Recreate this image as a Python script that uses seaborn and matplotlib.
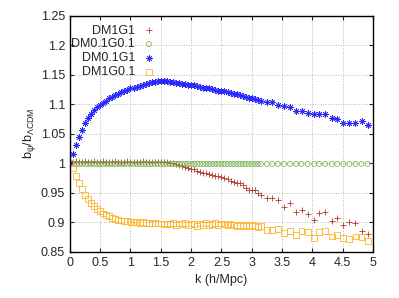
"""
Scale-dependent bias ratio b_psi / b_LCDM for four DM/G models.
"""

import pandas as pd
import matplotlib
matplotlib.use("Agg")
import matplotlib.pyplot as plt
import seaborn as sns

# k values (h/Mpc): dense part of the binning, then the sparse tail
k_dense = [0.00, 0.05, 0.10, 0.15, 0.20, 0.25, 0.30, 0.35, 0.40, 0.45,
           0.50, 0.55, 0.60, 0.65, 0.70, 0.75, 0.80, 0.85, 0.90, 0.95,
           1.00, 1.05, 1.10, 1.15, 1.20, 1.25, 1.30, 1.35, 1.40, 1.45,
           1.50, 1.55, 1.60, 1.65, 1.70, 1.75, 1.80, 1.85, 1.90, 1.95,
           2.00, 2.05, 2.10, 2.15, 2.20, 2.25, 2.30, 2.35, 2.40, 2.45,
           2.50, 2.55, 2.60, 2.65, 2.70, 2.75, 2.80, 2.85, 2.90, 2.95,
           3.00, 3.05, 3.10, 3.15]
k_sparse = [3.25, 3.34, 3.43, 3.53, 3.63, 3.73, 3.82, 3.92, 4.03, 4.11,
            4.21, 4.32, 4.41, 4.51, 4.61, 4.71, 4.81, 4.91]

# DM1G1
dm1g1_dense = [1.000, 1.003, 1.004, 1.003, 1.003, 1.004, 1.003, 1.002, 1.004, 1.003,
               1.003, 1.004, 1.003, 1.002, 1.003, 1.004, 1.003, 1.003, 1.002, 1.004,
               1.003, 1.003, 1.002, 1.003, 1.004, 1.002, 1.003, 1.003, 1.002, 1.003,
               1.002, 1.002, 1.002, 1.001, 1.001, 0.999, 0.997, 0.995, 0.993, 0.992,
               0.991, 0.990, 0.987, 0.985, 0.984, 0.983, 0.982, 0.980, 0.979, 0.978,
               0.977, 0.975, 0.973, 0.970, 0.969, 0.967, 0.966, 0.963, 0.958, 0.955,
               0.955, 0.954, 0.950, 0.947]
dm1g1_sparse = [0.942, 0.941, 0.937, 0.926, 0.933, 0.918, 0.921, 0.914, 0.904, 0.916,
                0.918, 0.903, 0.907, 0.896, 0.900, 0.899, 0.886, 0.880]

# DM0.1G0.1
dm01g01_dense = [1.000, 0.999, 0.999, 0.999, 0.999, 0.999, 0.999, 0.999, 0.999, 0.999,
                 0.999, 0.999, 0.999, 0.999, 0.999, 0.999, 0.999, 0.999, 0.999, 0.999,
                 0.999, 0.999, 0.999, 0.999, 0.999, 0.999, 0.999, 0.999, 0.999, 0.999,
                 0.999, 0.999, 0.999, 0.999, 0.999, 0.999, 0.999, 0.999, 0.999, 0.999,
                 0.999, 0.999, 0.999, 0.999, 0.999, 0.999, 0.999, 0.999, 0.999, 0.999,
                 0.999, 0.999, 0.999, 0.999, 0.999, 0.999, 0.999, 0.999, 0.999, 0.999,
                 0.999, 0.999, 0.999, 0.999]
dm01g01_sparse = [0.999, 0.999, 0.999, 0.999, 0.999, 0.999, 0.999, 0.999, 0.999, 0.999,
                  0.999, 0.999, 0.999, 0.999, 0.999, 0.999, 0.999, 0.999]

# DM0.1G1
dm01g1_dense = [1.000, 1.015, 1.031, 1.045, 1.057, 1.068, 1.076, 1.083, 1.090, 1.095,
                1.099, 1.103, 1.106, 1.110, 1.112, 1.115, 1.118, 1.120, 1.122, 1.125,
                1.127, 1.128, 1.130, 1.131, 1.133, 1.134, 1.136, 1.137, 1.138, 1.139,
                1.140, 1.139, 1.139, 1.138, 1.137, 1.136, 1.136, 1.135, 1.134, 1.133,
                1.133, 1.132, 1.131, 1.130, 1.128, 1.127, 1.127, 1.126, 1.124, 1.123,
                1.123, 1.122, 1.120, 1.119, 1.118, 1.117, 1.115, 1.114, 1.112, 1.111,
                1.111, 1.109, 1.107, 1.106]
dm01g1_sparse = [1.104, 1.104, 1.099, 1.097, 1.096, 1.089, 1.088, 1.085, 1.083, 1.083,
                 1.083, 1.077, 1.075, 1.068, 1.068, 1.069, 1.071, 1.065]

# DM1G0.1
dm1g01_dense = [1.000, 0.992, 0.978, 0.966, 0.957, 0.946, 0.939, 0.933, 0.927, 0.922,
                0.919, 0.915, 0.913, 0.910, 0.908, 0.906, 0.904, 0.903, 0.902, 0.902,
                0.901, 0.900, 0.900, 0.899, 0.900, 0.899, 0.899, 0.898, 0.899, 0.898,
                0.898, 0.897, 0.898, 0.897, 0.899, 0.896, 0.898, 0.897, 0.899, 0.895,
                0.898, 0.897, 0.894, 0.898, 0.896, 0.899, 0.895, 0.897, 0.899, 0.896,
                0.898, 0.897, 0.895, 0.897, 0.896, 0.894, 0.896, 0.894, 0.895, 0.893,
                0.896, 0.893, 0.892, 0.893]
dm1g01_sparse = [0.887, 0.887, 0.888, 0.882, 0.886, 0.879, 0.886, 0.883, 0.874, 0.883,
                 0.885, 0.876, 0.878, 0.873, 0.872, 0.876, 0.875, 0.869]

x_ticks = [0, 0.5, 1, 1.5, 2, 2.5, 3, 3.5, 4, 4.5, 5]
y_ticks = [0.85, 0.9, 0.95, 1, 1.05, 1.1, 1.15, 1.2, 1.25]

sns.set_style("ticks")
plt.rcParams["font.family"] = ["Liberation Sans", "DejaVu Sans"]
plt.rcParams["mathtext.fontset"] = "custom"
plt.rcParams["mathtext.rm"] = "Liberation Sans"
plt.rcParams["mathtext.it"] = "Liberation Sans"
plt.rcParams["mathtext.default"] = "regular"

fig = plt.figure(figsize=(3.99, 2.98), dpi=100)
ax = fig.add_axes([0.175, 0.155, 0.76, 0.792])

series = [
    ("DM1G1", dm1g1_dense + dm1g1_sparse, dict(marker="+", color="#b03a30", s=22, linewidth=0.6)),
    ("DM0.1G0.1", dm01g01_dense + dm01g01_sparse,
     dict(marker="o", facecolor="none", edgecolor="#78b04a", s=13, linewidth=0.55)),
    ("DM0.1G1", dm01g1_dense + dm01g1_sparse, dict(marker=(8, 2, 0), color="#2a2aff", s=18, linewidth=0.6)),
    ("DM1G0.1", dm1g01_dense + dm1g01_sparse,
     dict(marker="s", facecolor="none", edgecolor="#ffb428", s=18, linewidth=0.6)),
]
k_all = k_dense + k_sparse
for name, values, style in series:
    df = pd.DataFrame({"k": k_all, "ratio": values})
    sns.scatterplot(data=df, x="k", y="ratio", ax=ax, label=name, **style)

ax.set_xlim(0, 5)
ax.set_ylim(0.85, 1.25)
ax.set_xticks(x_ticks)
ax.set_yticks(y_ticks)
ax.set_xticklabels(["%g" % t for t in x_ticks])
ax.set_yticklabels(["%g" % t for t in y_ticks])
ax.tick_params(direction="in", top=True, right=True, labelsize=9, length=3, width=0.8)
ax.grid(True, linestyle=":", color="#b8b8b8", linewidth=0.7)
for sp in ax.spines.values():
    sp.set_linewidth(1.0)
    sp.set_color("black")

ax.set_xlabel("k (h/Mpc)", fontsize=9, labelpad=4)
ax.set_ylabel(r"$b_{\psi}/b_{\Lambda CDM}$", fontsize=9, labelpad=2)

ax.legend(loc="upper right", bbox_to_anchor=(0.31, 1.0), frameon=False,
          markerfirst=False, fontsize=9, handletextpad=0.6, labelspacing=0.15,
          borderpad=0.2, handlelength=1.0)

fig.savefig("out.png", dpi=100)
